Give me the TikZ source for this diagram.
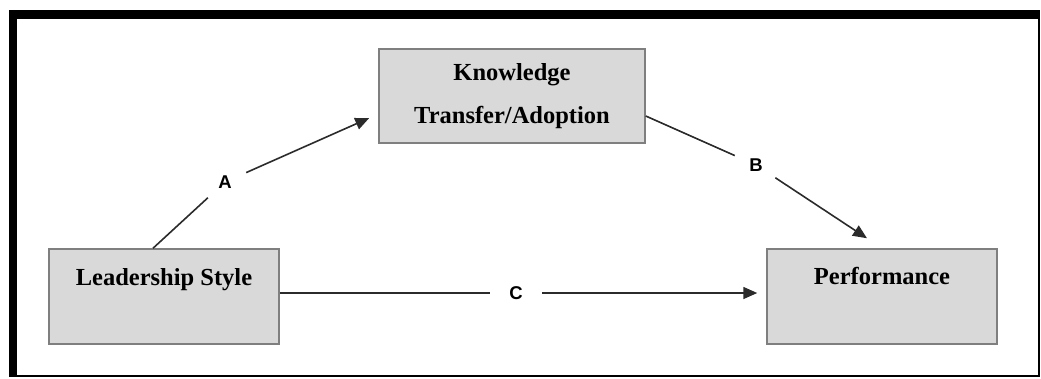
\documentclass[tikz,border=0pt]{standalone}
\usepackage{fontspec}
\setmainfont{Liberation Serif}
\newfontfamily\labfont{Liberation Sans}
\usetikzlibrary{arrows.meta,calc}
\definecolor{boxfill}{HTML}{D9D9D9}
\definecolor{boxline}{HTML}{7F7F7F}
\definecolor{conn}{HTML}{2B2B2B}
\tikzset{
  box/.style={draw=boxline, line width=1.5pt, fill=boxfill, inner sep=0pt},
  boxtext/.style={font=\bfseries\fontsize{24.5}{43}\selectfont, align=center, inner sep=0pt},
  lab/.style={font=\labfont\bfseries\fontsize{18.5}{20}\selectfont, circle, minimum size=46pt, inner sep=0pt},
  conn/.style={draw=conn, line width=1.6pt},
  arr/.style={conn, -{Triangle[length=14pt,width=12pt]}}
}
\begin{document}
\begin{tikzpicture}[x=1pt,y=-1pt]
\useasboundingbox (0,0) rectangle (1041,378);
% frame
\fill[black] (9,10) rectangle (1040,18);
\fill[black] (9,10) rectangle (17,377);
\draw[black, line width=2pt] (17,18) -- (1039,18) -- (1039,376) -- (17,376);
% boxes
\node[box, minimum width=230pt, minimum height=95pt] (lead) at (164,296.5) {};
\node[box, minimum width=230pt, minimum height=95pt] (perf) at (882,296.5) {};
\node[box, boxtext, minimum width=266pt, minimum height=94pt] (know) at (512,96) {Knowledge\\Transfer/Adoption};
\node[boxtext, anchor=base] (leadt) at (164,285) {Leadership Style};
\node[boxtext, anchor=base] (perft) at (882,284) {Performance};
% labels
\node[lab] (la) at (225,182) {A};
\node[lab] (lb) at (756,165) {B};
\node[lab, minimum size=52pt] (lc) at (516,293) {C};
% connectors
\draw[conn] ($(lead.north)+(-11,0)$) -- (la);
\draw[arr] (la) -- ($(know.west)+(-9,22)$);
\draw[conn] ($(know.east)+(0,20)$) -- (lb);
\draw[arr] (lb) -- ($(perf.north)+(-15,-10)$);
\draw[conn] ($(lead.east)+(0,-3.5)$) -- (lc.west);
\draw[arr] (lc.east) -- ($(perf.west)+(-9,-3.5)$);
\end{tikzpicture}
\end{document}
